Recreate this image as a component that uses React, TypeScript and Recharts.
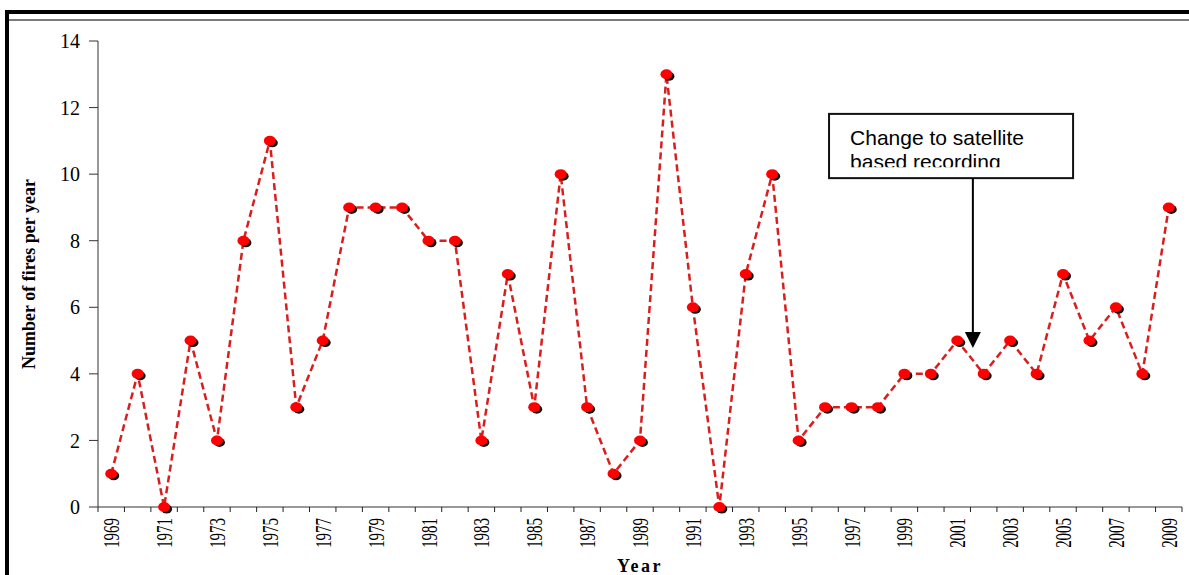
import { LineChart, Line, XAxis, YAxis, ReferenceArea, ReferenceLine } from "recharts";

const years = [
  1969, 1970, 1971, 1972, 1973, 1974, 1975, 1976, 1977, 1978, 1979, 1980, 1981, 1982,
  1983, 1984, 1985, 1986, 1987, 1988, 1989, 1990, 1991, 1992, 1993, 1994, 1995, 1996,
  1997, 1998, 1999, 2000, 2001, 2002, 2003, 2004, 2005, 2006, 2007, 2008, 2009,
];

const fires = [
  1, 4, 0, 5, 2, 8, 11, 3, 5, 9, 9, 9, 8, 8,
  2, 7, 3, 10, 3, 1, 2, 13, 6, 0, 7, 10, 2, 3,
  3, 3, 4, 4, 5, 4, 5, 4, 7, 5, 6, 4, 9,
];

const yearLabels = [
  1969, 1971, 1973, 1975, 1977, 1979, 1981, 1983, 1985, 1987, 1989,
  1991, 1993, 1995, 1997, 1999, 2001, 2003, 2005, 2007, 2009,
];

const fireTicks = [0, 2, 4, 6, 8, 10, 12, 14];

const noteLines = ["Change to satellite", "based recording"];
// note box and arrow, in data units
const noteBox = { x1: 1996.15, x2: 2005.38, y1: 9.88, y2: 11.81 };
const noteArrow = { x: 2001.59, from: 9.88, to: 4.78 };

const data = years.map((year, i) => ({ year, fires: fires[i] }));

// tick marks sit on the category edges, labels on the centres
const edges = [...years.map((y) => y - 0.5), years[years.length - 1] + 0.5];
const xTicks = [...edges, ...yearLabels].sort((a, b) => a - b);

const SERIF = "'Liberation Serif', 'Times New Roman', serif";
const SANS = "'Liberation Sans', Arial, sans-serif";

function YearTick(props: any) {
  const { x, y, payload } = props;
  const v = payload.value;
  if (!Number.isInteger(v)) {
    return <line x1={x} x2={x} y1={y - 11} y2={y - 6} stroke="#222" strokeWidth={1} />;
  }
  return (
    <text
      transform={`translate(${x},${y}) rotate(-90) scale(0.65,1)`}
      textAnchor="end"
      dy="0.35em"
      fontSize={23}
      fontFamily={SERIF}
      fill="#000"
    >
      {v}
    </text>
  );
}

function FireDot(props: any) {
  const { cx, cy } = props;
  if (cx == null || cy == null) return null;
  return (
    <g>
      <ellipse cx={cx + 2.5} cy={cy + 2} rx={5.5} ry={4.5} fill="#111" />
      <ellipse cx={cx} cy={cy} rx={6} ry={5} fill="#ff0000" />
    </g>
  );
}

function NoteBox(props: any) {
  const { x, y, width, height } = props;
  return (
    <g>
      <defs>
        <clipPath id="note-clip">
          <rect x={x} y={y} width={width} height={height - 11} />
        </clipPath>
      </defs>
      <rect x={x} y={y} width={width} height={height} fill="#fff" stroke="#111" strokeWidth={2} />
      <g clipPath="url(#note-clip)" fontFamily={SANS} fontSize={21} fill="#000">
        <text x={x + 21} y={y + 31}>{noteLines[0]}</text>
        <text x={x + 21} y={y + 55}>{noteLines[1]}</text>
      </g>
    </g>
  );
}

function NoteArrow(props: any) {
  const { x1, y1, x2, y2 } = props;
  return (
    <g>
      <line x1={x1} y1={y1} x2={x2} y2={y2 - 14} stroke="#000" strokeWidth={2} />
      <path d={`M${x2 - 8},${y2 - 16} L${x2 + 8},${y2 - 16} L${x2},${y2} Z`} fill="#000" />
    </g>
  );
}

export default function App() {
  return (
    <div style={{ position: "absolute", left: 0, top: 0, width: 1189, height: 575, background: "#fff" }}>
      <LineChart
        width={1189}
        height={575}
        data={data}
        margin={{ top: 41, right: 7, bottom: 0, left: 0 }}
      >
        <XAxis
          dataKey="year"
          type="number"
          domain={[1968.5, 2009.5]}
          ticks={xTicks}
          interval={0}
          height={68}
          tickSize={5}
          tickMargin={6}
          tickLine={false}
          axisLine={{ stroke: "#333" }}
          tick={<YearTick />}
          label={{
            value: "Year",
            position: "insideBottom",
            offset: 3,
            style: { fontFamily: SERIF, fontWeight: "bold", fontSize: 18, letterSpacing: 2.5, fill: "#000" },
          }}
        />
        <YAxis
          domain={[0, 14]}
          ticks={fireTicks}
          width={98}
          tickSize={9}
          tickMargin={9}
          axisLine={{ stroke: "#333" }}
          tickLine={{ stroke: "#333" }}
          tick={{ fontFamily: SERIF, fontSize: 20, fill: "#000" }}
          label={{
            value: "Number of fires per year",
            angle: -90,
            position: "center",
            dx: -20,
            style: { fontFamily: SERIF, fontWeight: "bold", fontSize: 18, fill: "#000" },
          }}
        />
        <ReferenceArea
          x1={noteBox.x1}
          x2={noteBox.x2}
          y1={noteBox.y1}
          y2={noteBox.y2}
          shape={<NoteBox />}
        />
        <ReferenceLine
          segment={[
            { x: noteArrow.x, y: noteArrow.from },
            { x: noteArrow.x, y: noteArrow.to },
          ]}
          shape={(p: any) => <NoteArrow {...p} />}
        />
        <Line
          dataKey="fires"
          type="linear"
          stroke="#d91e1e"
          strokeWidth={2.5}
          strokeDasharray="7 4"
          dot={<FireDot />}
          activeDot={false}
          isAnimationActive={false}
        />
      </LineChart>
      <div style={{ position: "absolute", left: 5, right: 0, top: 10, height: 4, background: "#000" }} />
      <div style={{ position: "absolute", left: 5, top: 10, bottom: 0, width: 4, background: "#000" }} />
      <div style={{ position: "absolute", left: 9, right: 0, top: 19, height: 1.5, background: "#7a7a7a" }} />
    </div>
  );
}
